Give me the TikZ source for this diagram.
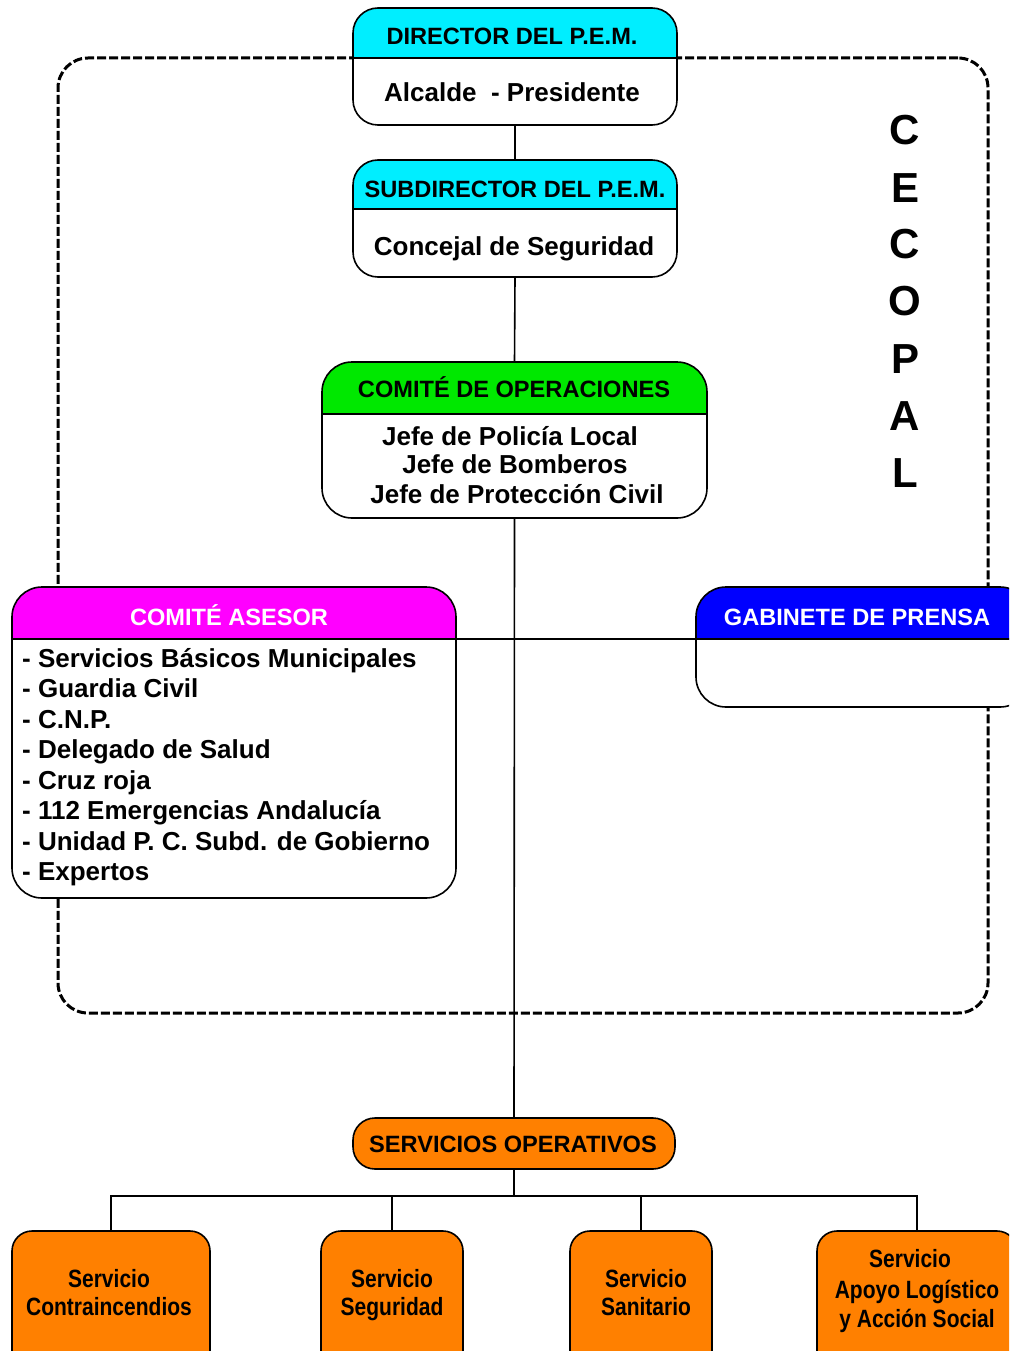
\documentclass[tikz,border=0pt]{standalone}
\usepackage{fontspec}
\setmainfont{Liberation Sans}
\newfontfamily\narrowfont[FakeStretch=0.84]{Liberation Sans}
\definecolor{hcyan}{RGB}{0,238,255}
\definecolor{hgreen}{RGB}{0,232,0}
\definecolor{hmag}{RGB}{255,0,255}
\definecolor{hblue}{RGB}{0,0,255}
\definecolor{sorange}{RGB}{255,128,0}
\tikzset{
  conn/.style={line width=1.6pt, draw=black},
  hdtext/.style={anchor=base, inner sep=0pt, font=\bfseries\fontsize{23.6}{28}\selectfont},
  bdtext/.style={anchor=base, inner sep=0pt, font=\bfseries\fontsize{26}{30}\selectfont},
  lsttext/.style={anchor=base west, inner sep=0pt, font=\bfseries\fontsize{26}{30}\selectfont},
  svtext/.style={anchor=base, inner sep=0pt, font=\narrowfont\bfseries\fontsize{25}{30}\selectfont},
  bigletter/.style={anchor=base, inner sep=0pt, font=\bfseries\fontsize{42}{48}\selectfont},
  boxbody/.style={rectangle, fill=white, inner sep=0pt, rounded corners=#1},
  outline/.style={line width=1.6pt, rounded corners=#1},
  svbox/.style={rectangle, fill=sorange, draw=black, line width=1.6pt, inner sep=0pt, rounded corners=#1},
}
\newcommand{\titledbox}[8]{%
  \node[boxbody=#8, minimum width={#4-#2}, minimum height={#5-#3}] (#1) at ({(#2+#4)/2},{(#3+#5)/2}) {};
  \begin{scope}
    \clip (#2-3,#3-3) rectangle (#4+3,#6);
    \fill[#7, rounded corners=#8] (#2,#3) rectangle (#4,#5);
  \end{scope}
  \coordinate (#1-dl) at (#2,#6);
  \coordinate (#1-dr) at (#4,#6);
  \draw[line width=1.6pt] (#1-dl) -- (#1-dr);
  \draw[outline=#8] (#2,#3) rectangle (#4,#5);
}
\begin{document}
\begin{tikzpicture}[x=1pt,y=-1pt]
\useasboundingbox (0,0) rectangle (1009,1351);
\clip (0,0) rectangle (1009,1351);
\fill[white] (0,0) rectangle (1009,1351);

% CECOPAL dashed frame
\node[draw, line width=3pt, dash pattern=on 9pt off 3pt, rounded corners=30pt,
      minimum width=930, minimum height=955, inner sep=0pt] (frame) at (523,535.5) {};

% central connectors (drawn below boxes)
\coordinate (bus) at (514,1196);

% boxes
\titledbox{dir}{353}{8}{677}{125}{58}{hcyan}{25pt}
\titledbox{sub}{353}{160}{677}{277}{209}{hcyan}{25pt}
\titledbox{oper}{322}{362}{707}{518}{414}{hgreen}{30pt}
\titledbox{asesor}{12}{587}{456}{898}{639}{hmag}{30pt}
\titledbox{prensa}{696}{587}{1030}{707}{639}{hblue}{30pt}

\node[svbox=22pt, minimum width=322, minimum height=51] (servop) at (514,1143.5) {};
\node[svbox=20pt, minimum width=198, minimum height=150] (s1) at (111,1306) {};
\node[svbox=20pt, minimum width=142, minimum height=150] (s2) at (392,1306) {};
\node[svbox=20pt, minimum width=142, minimum height=150] (s3) at (641,1306) {};
\node[svbox=20pt, minimum width=200, minimum height=150] (s4) at (917,1306) {};

% connectors
\draw[conn] (dir.south) -- (sub.north);
\draw[conn] (sub.south) -- (oper.north);
\draw[conn] (oper.south) -- (servop.north);
\draw[conn] (asesor-dr) -- (prensa-dl);
\draw[conn] (servop.south) -- (bus);
\draw[conn] (s1.north) -- (s1.north |- bus) -- (s4.north |- bus) -- (s4.north);
\draw[conn] (s2.north) -- (s2.north |- bus);
\draw[conn] (s3.north) -- (s3.north |- bus);

% texts
\node[hdtext] (t-dir) at (512,45) {DIRECTOR DEL P.E.M.};
\node[bdtext] (b-dir) at (512,102) {Alcalde\ \ - Presidente};
\node[hdtext] (t-sub) at (515,197) {SUBDIRECTOR DEL P.E.M.};
\node[bdtext] (b-sub) at (514,255) {Concejal de Seguridad};
\node[hdtext] (t-oper) at (514,397) {COMITÉ DE OPERACIONES};
\node[bdtext] (b-oper1) at (510,445) {Jefe de Policía Local};
\node[bdtext] (b-oper2) at (515,473) {Jefe de Bomberos};
\node[bdtext] (b-oper3) at (517,503) {Jefe de Protección Civil};
\node[hdtext, text=white] (t-asesor) at (229,625) {COMITÉ ASESOR};
\node[lsttext] (l1) at (22,667) {- Servicios Básicos Municipales};
\node[lsttext] (l2) at (22,697.5) {- Guardia Civil};
\node[lsttext] (l3) at (22,728) {- C.N.P.};
\node[lsttext] (l4) at (22,758.5) {- Delegado de Salud};
\node[lsttext] (l5) at (22,789) {- Cruz roja};
\node[lsttext] (l6) at (22,819.5) {- 112 Emergencias Andalucía};
\node[lsttext] (l7) at (22,850) {- Unidad P. C. Subd. de Gobierno};
\node[lsttext] (l8) at (22,880.5) {- Expertos};
\node[hdtext, text=white] (t-prensa) at (857,625) {GABINETE DE PRENSA};
\node[hdtext] (t-servop) at (513,1152) {SERVICIOS OPERATIVOS};
\node[svtext] (s1a) at (109,1287) {Servicio};
\node[svtext] (s1b) at (109,1315) {Contraincendios};
\node[svtext] (s2a) at (392,1287) {Servicio};
\node[svtext] (s2b) at (392,1315) {Seguridad};
\node[svtext] (s3a) at (646,1287) {Servicio};
\node[svtext] (s3b) at (646,1315) {Sanitario};
\node[svtext] (s4a) at (910,1267) {Servicio};
\node[svtext] (s4b) at (917,1298) {Apoyo Logístico};
\node[svtext] (s4c) at (917,1327) {y Acción Social};

% CECOPAL
\node[bigletter] (c1) at (905,145) {C};
\node[bigletter] (c2) at (905,202) {E};
\node[bigletter] (c3) at (905,258) {C};
\node[bigletter] (c4) at (905,315) {O};
\node[bigletter] (c5) at (905,373) {P};
\node[bigletter] (c6) at (905,430) {A};
\node[bigletter] (c7) at (905,487) {L};
\end{tikzpicture}
\end{document}
